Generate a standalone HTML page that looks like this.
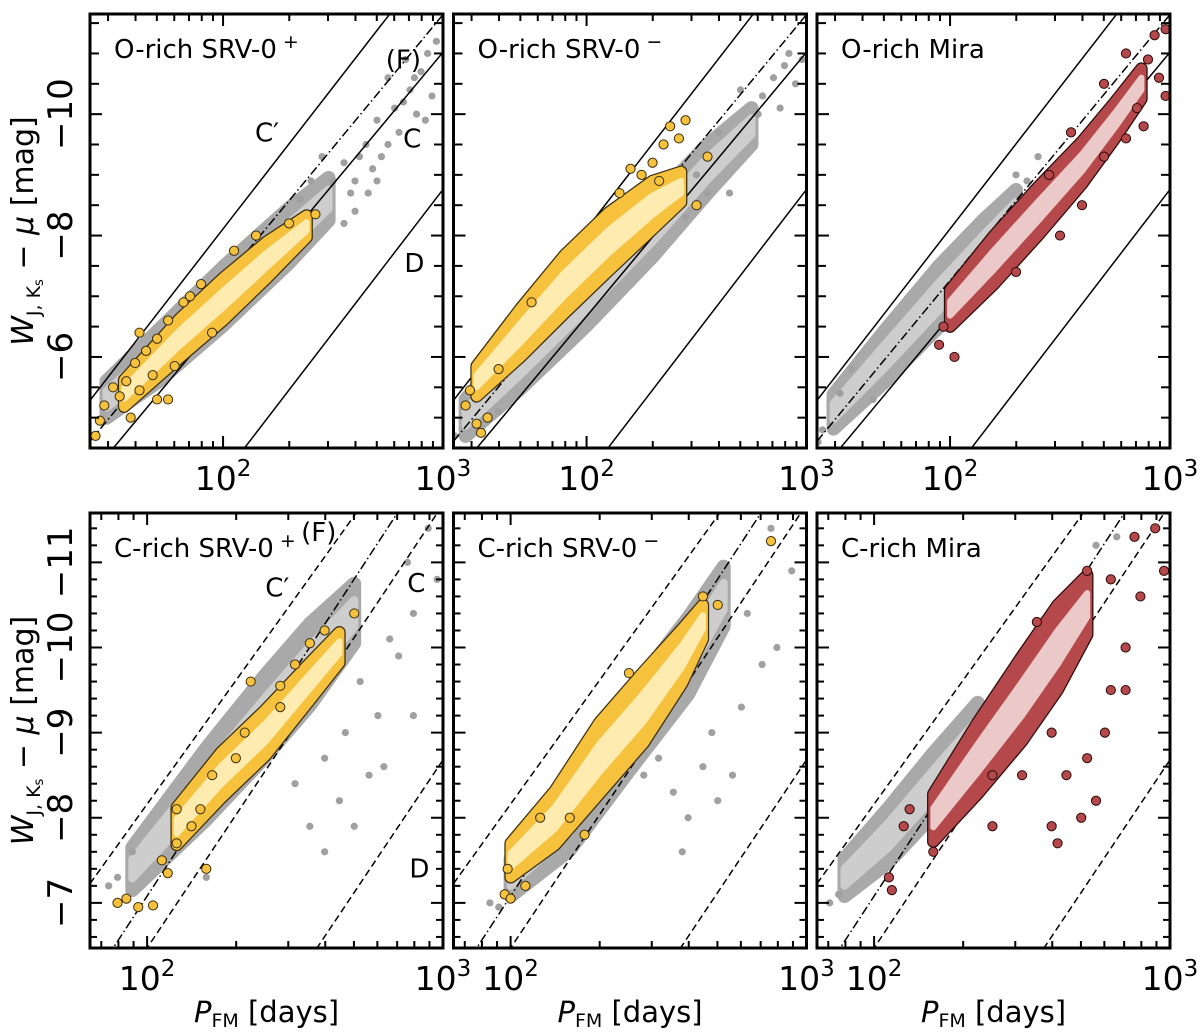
<!DOCTYPE html>
<html><head><meta charset="utf-8"><style>
body{margin:0;background:#fff;overflow:hidden}
svg text{font-family:"DejaVu Sans","Liberation Sans",sans-serif;fill:#000}
</style></head><body>
<svg id="fig" width="1200" height="1036" viewBox="0 0 1200 1036" xmlns="http://www.w3.org/2000/svg" style="display:block"></svg>
<script>
// ---- data (logP, W) ----
const panelTitles = ["O-rich SRV-0","O-rich SRV-0","O-rich Mira","C-rich SRV-0","C-rich SRV-0","C-rich Mira"];
const panelSup = ["+","\u2212","","+","\u2212",""];
const panelColor = ["yellow","yellow","red","yellow","yellow","red"];
const topYTicks = [-6,-8,-10];
const botYTicks = [-7,-8,-9,-10,-11];
const xTickLabels = ["2","3"];
// relations: [W at logP=2, slope]
const topLines = {Cp:[-8.11,-4.67], F:[-7.26,-4.38], C:[-6.67,-4.35], D:[-4.04,-4.72]};
const botLines = {Cp:[-8.16,-4.84], F:[-7.08,-5.32], C:[-6.47,-5.21], D:[-3.49,-5.19]};

const grayRidge1 = [[1.47,-5.3,0.3],[1.7,-6.0,0.42],[2.0,-7.0,0.48],[2.3,-8.0,0.45],[2.48,-8.6,0.35]];
const grayPts1 = [[2.55,-9.2],[2.6,-8.9],[2.65,-9.5],[2.7,-9.9],[2.72,-9.3],[2.78,-10.1],[2.8,-9.7],[2.85,-10.4],[2.88,-10.0],[2.9,-10.7],[2.93,-11.0],[2.75,-10.6],[2.83,-10.9],[2.95,-10.3],[2.6,-8.4],[2.55,-8.2],[2.66,-8.7],[2.45,-9.3],[2.4,-8.9],[2.92,-9.9],[2.58,-8.7],[2.68,-9.1],[2.75,-9.5],[2.82,-10.2],[2.7,-8.9],[2.5,-8.9],[2.62,-9.3],[2.87,-10.6],[2.97,-11.2],[2.35,-8.6]];
const colRidge1 = [[1.55,-5.4,0.22],[1.8,-6.3,0.32],[2.0,-6.95,0.35],[2.2,-7.6,0.3],[2.38,-8.15,0.18]];
const colPts1 = [[1.42,-4.7],[1.44,-4.95],[1.46,-5.2],[1.5,-5.5],[1.53,-5.35],[1.56,-5.6],[1.6,-5.9],[1.62,-5.45],[1.65,-6.1],[1.68,-5.7],[1.7,-6.3],[1.75,-6.6],[1.78,-5.85],[1.82,-6.9],[1.85,-7.0],[1.9,-7.2],[2.05,-7.75],[2.15,-8.0],[2.3,-8.2],[2.42,-8.35],[1.58,-5.0],[1.7,-5.3],[1.75,-5.3],[1.62,-6.4],[1.95,-6.4]];

const grayRidge2 = [[1.45,-5.0,0.3],[1.7,-5.9,0.42],[2.0,-7.0,0.48],[2.3,-8.1,0.45],[2.55,-9.1,0.4],[2.75,-9.8,0.3]];
const grayPts2 = [[2.8,-10.3],[2.85,-10.6],[2.88,-10.1],[2.92,-11.0],[2.95,-10.5],[2.7,-10.4],[2.6,-9.7],[2.5,-9.0],[1.4,-4.7],[1.5,-5.3],[2.65,-8.7],[2.4,-8.6],[2.98,-10.9],[1.6,-5.1],[2.78,-10.0],[2.9,-10.8],[2.45,-8.3],[2.55,-8.7]];
const colRidge2 = [[1.5,-5.6,0.25],[1.7,-6.4,0.4],[1.9,-7.2,0.48],[2.1,-7.9,0.48],[2.3,-8.5,0.4],[2.43,-8.8,0.25]];
const colPts2 = [[1.45,-5.2],[1.47,-5.45],[1.5,-4.9],[1.52,-4.75],[1.55,-5.0],[1.6,-5.8],[2.25,-9.0],[2.3,-9.2],[2.2,-9.1],[2.35,-9.5],[2.38,-9.8],[2.42,-9.6],[2.45,-9.9],[2.5,-8.5],[2.55,-9.3],[2.33,-8.9],[2.15,-8.7],[1.75,-6.9]];

const grayRidge3 = [[1.47,-5.1,0.28],[1.7,-6.0,0.42],[1.95,-7.0,0.5],[2.15,-7.8,0.45],[2.3,-8.4,0.35]];
const grayPts3 = [[1.42,-4.8],[1.5,-5.4],[2.35,-8.9],[2.4,-9.3],[1.55,-5.8],[2.0,-6.7],[1.65,-5.3],[1.4,-4.6],[2.3,-9.0]];
const colRidge3 = [[2.0,-6.8,0.3],[2.2,-7.6,0.4],[2.4,-8.4,0.4],[2.6,-9.2,0.35],[2.75,-9.9,0.3],[2.87,-10.5,0.25]];
const colPts3 = [[1.95,-6.2],[1.97,-6.5],[2.02,-6.0],[2.3,-7.4],[2.5,-8.0],[2.45,-9.0],[2.6,-8.5],[2.7,-9.3],[2.8,-9.6],[2.85,-10.1],[2.9,-10.9],[2.93,-11.3],[2.98,-11.4],[2.8,-11.0],[2.98,-10.3],[2.95,-10.6],[2.88,-9.8],[2.7,-10.5],[2.55,-9.7]];

const grayRidge4 = [[1.95,-7.4,0.25],[2.2,-8.4,0.42],[2.4,-9.2,0.48],[2.55,-9.8,0.48],[2.7,-10.4,0.35]];
const grayPts4 = [[2.6,-8.7],[2.65,-8.2],[2.7,-7.9],[2.75,-8.5],[2.8,-8.6],[2.55,-7.9],[2.5,-8.4],[2.85,-9.9],[2.9,-10.4],[2.88,-11.0],[2.95,-11.4],[2.98,-10.8],[2.78,-9.2],[2.72,-9.6],[2.9,-9.2],[2.6,-7.6],[2.2,-7.3],[1.95,-7.6],[1.9,-7.3],[1.87,-7.2],[2.67,-9.0],[2.82,-10.1]];
const colRidge4 = [[2.1,-7.9,0.22],[2.25,-8.5,0.27],[2.4,-9.0,0.27],[2.55,-9.6,0.22],[2.65,-10.0,0.18]];
const colPts4 = [[1.9,-7.0],[1.93,-7.05],[1.97,-6.95],[2.02,-6.97],[2.05,-7.5],[2.07,-7.35],[2.1,-7.7],[2.15,-7.9],[2.2,-7.4],[2.22,-8.5],[2.3,-8.7],[2.33,-9.0],[2.45,-9.3],[2.5,-9.8],[2.55,-10.05],[2.6,-10.2],[2.7,-10.4],[2.35,-9.6],[2.45,-9.55],[2.18,-8.1],[2.1,-8.1]];

const grayRidge5 = [[2.0,-7.3,0.22],[2.2,-8.0,0.38],[2.4,-9.0,0.45],[2.6,-9.9,0.45],[2.72,-10.6,0.35]];
const grayPts5 = [[1.93,-7.0],[1.96,-6.95],[2.55,-8.3],[2.6,-8.0],[2.65,-8.6],[2.7,-8.2],[2.75,-8.5],[2.78,-9.3],[2.85,-9.8],[2.9,-10.0],[2.8,-10.4],[2.95,-10.9],[2.88,-11.4],[2.5,-8.7],[2.45,-8.5],[2.58,-7.6],[2.68,-9.0]];
const colRidge5 = [[2.0,-7.5,0.2],[2.15,-8.0,0.32],[2.3,-8.7,0.42],[2.45,-9.3,0.42],[2.58,-9.9,0.32],[2.65,-10.3,0.2]];
const colPts5 = [[1.98,-7.1],[2.0,-7.05],[2.05,-7.2],[1.99,-7.4],[2.25,-7.8],[2.2,-8.0],[2.65,-10.6],[2.7,-10.5],[2.88,-11.25],[2.4,-9.7],[2.1,-8.0]];

const grayRidge6 = [[1.9,-7.3,0.22],[2.05,-7.8,0.32],[2.2,-8.4,0.36],[2.35,-9.0,0.35]];
const grayPts6 = [[1.85,-7.0],[1.88,-7.1],[2.75,-11.2],[2.82,-11.3]];
const colRidge6 = [[2.2,-8.0,0.28],[2.35,-8.7,0.42],[2.5,-9.4,0.5],[2.62,-10.0,0.5],[2.72,-10.5,0.35]];
const colPts6 = [[2.05,-7.3],[2.06,-7.15],[2.12,-8.1],[2.2,-7.6],[2.4,-7.9],[2.6,-7.9],[2.62,-7.7],[2.7,-8.0],[2.75,-8.2],[2.65,-8.5],[2.72,-8.7],[2.78,-9.0],[2.8,-9.5],[2.85,-9.5],[2.9,-10.6],[2.98,-10.9],[2.95,-11.4],[2.88,-11.3],[2.8,-10.8],[2.72,-10.9],[2.55,-10.3],[2.85,-10.0],[2.6,-9.0],[2.5,-8.5],[2.4,-8.5],[2.1,-7.9]];

const grayRidges=[grayRidge1,grayRidge2,grayRidge3,grayRidge4,grayRidge5,grayRidge6];
const grayPtsAll=[grayPts1,grayPts2,grayPts3,grayPts4,grayPts5,grayPts6];
const colRidges=[colRidge1,colRidge2,colRidge3,colRidge4,colRidge5,colRidge6];
const colPtsAll=[colPts1,colPts2,colPts3,colPts4,colPts5,colPts6];

// ---- layout ----
const NS="http://www.w3.org/2000/svg";
const svg=document.getElementById('fig');
function mk(tag,attrs,parent){const e=document.createElementNS(NS,tag);for(const k in attrs)e.setAttribute(k,attrs[k]);(parent||svg).appendChild(e);return e;}
const colX=[90,453.5,817], W=353;
const rows=[{top:14,bot:448,lx0:1.395,lx1:3.0,w0:-4.5,w1:-11.65,minor:0.5,ticks:topYTicks,lines:topLines,dash:false},
            {top:513,bot:948,lx0:1.807,lx1:3.0,w0:-6.47,w1:-11.58,minor:0.2,ticks:botYTicks,lines:botLines,dash:true}];
const fills={yellow:{f:"#f6c23e",c:"#fdebb0",s:"#3a2e10"},red:{f:"#b5484a",c:"#ecc9c9",s:"#2a0a0a"}};

for(let p=0;p<6;p++){
  const r=rows[p<3?0:1], x0=colX[p%3], x1=x0+W;
  const g=mk('g',{});
  
  
  const clipId='clip'+p;
  const cp=mk('clipPath',{id:clipId},g); mk('rect',{x:x0,y:r.top,width:W,height:r.bot-r.top},cp);
  const sx=l=>x0+(l-r.lx0)/(r.lx1-r.lx0)*W;
  const sy=w=>r.bot-(w-r.w0)/(r.w1-r.w0)*(r.bot-r.top);
  const plot=mk('g',{'clip-path':'url(#'+clipId+')'},g);
  function band(ridge,fill,sw,scale,name,edge){
    let up=ridge.map(d=>[sx(d[0]),sy(d[1]-d[2]*scale)]), lo=ridge.map(d=>[sx(d[0]),sy(d[1]+d[2]*scale)]).reverse();
    const pts=up.concat(lo).map(q=>q[0].toFixed(1)+','+q[1].toFixed(1)).join(' ');
    if(edge){const e2=mk('polygon',{points:pts,fill:edge,stroke:edge,'stroke-width':sw+2.5,'stroke-linejoin':'round'},plot);
      
      }
    const e=mk('polygon',{points:pts,fill:fill,stroke:fill,'stroke-width':sw,'stroke-linejoin':'round'},plot);
    
    
  }
  // gray
  band(grayRidges[p],'#a9a9a9',14,1,'gray-cloud');
  band(grayRidges[p],'#cdcdcd',8,0.45,'gray-cloud-core');
  grayPtsAll[p].forEach(d=>{const c=mk('circle',{cx:sx(d[0]),cy:sy(d[1]),r:3.6,fill:'#a0a0a0'},plot);
    
    });
  // lines
  const ln=r.lines;
  [['Cp',r.dash?'7,4':'none'],['F','9,3,1.5,3'],['C',r.dash?'7,4':'none'],['D',r.dash?'7,4':'none']].forEach(([k,da])=>{
    const a=ln[k][0],b=ln[k][1];
    const l=mk('line',{x1:sx(r.lx0),y1:sy(a+b*(r.lx0-2)),x2:sx(r.lx1),y2:sy(a+b*(r.lx1-2)),stroke:'#000','stroke-width':1.5,'stroke-dasharray':da},plot);
    
    
  });
  // colored
  const fc=fills[panelColor[p]];
  band(colRidges[p],fc.f,10,1,'member-cloud',fc.s);
  band(colRidges[p],fc.c,6,0.4,'member-cloud-core');
  colPtsAll[p].forEach(d=>{const c=mk('circle',{cx:sx(d[0]),cy:sy(d[1]),r:4.6,fill:fc.f,stroke:fc.s,'stroke-width':1},plot);
    
    });
  // ticks
  const tg=mk('g',{stroke:'#000','stroke-width':2},g);
  for(let k=1;k<=3;k++)for(let m=1;m<10;m++){const l=k+Math.log10(m); if(l<r.lx0||l>r.lx1)continue;
    const X=sx(l), len=m==1?12:7;
    mk('line',{x1:X,y1:r.bot,x2:X,y2:r.bot-len},tg); mk('line',{x1:X,y1:r.top,x2:X,y2:r.top+len},tg);}
  for(let w=-12;w<=-4;w+=r.minor){const ww=Math.round(w*10)/10; if(ww>r.w0||ww<r.w1)continue;
    const Y=sy(ww);
    const len=r.ticks.includes(ww)?12:(p<3?9:7);
    mk('line',{x1:x0,y1:Y,x2:x0+len,y2:Y},tg); mk('line',{x1:x1,y1:Y,x2:x1-len,y2:Y},tg);}
  mk('rect',{x:x0,y:r.top,width:W,height:r.bot-r.top,fill:'none',stroke:'#000','stroke-width':3},g);
  // x tick labels
  [2,3].forEach((k,i)=>{ if(k<r.lx0||k>r.lx1)return;
    const t=mk('text',{x:sx(k)-(i==1?0:0),y:r.bot+42,'font-size':33,'text-anchor':'middle'},g);
    t.textContent='10'; const s=mk('tspan',{dy:-14,'font-size':23},t); s.textContent=xTickLabels[i];
    
    });
  // title
  const tt=mk('text',{x:x0+24,y:r.top+44,'font-size':26},g); tt.textContent=panelTitles[p];
  if(panelSup[p]){const s=mk('tspan',{dx:6,dy:-10,'font-size':19},tt); s.textContent=panelSup[p];}
  
  
  if(p==0||p==3){
    r.ticks.forEach(v=>{const Y=sy(v);const t=mk('text',{x:0,y:0,'font-size':34,'text-anchor':'middle',transform:`translate(72,${Y}) rotate(-90)`},g);
      t.textContent='\u2212'+Math.abs(v);
      
      });
    const yt=mk('text',{x:0,y:0,'font-size':30,'text-anchor':'middle',transform:`translate(33,${(r.top+r.bot)/2}) rotate(-90)`},g);
    yt.innerHTML='<tspan font-style="italic">W</tspan><tspan font-size="19" dy="7">J, K</tspan><tspan font-size="13" dy="3">s</tspan><tspan dy="-10"> \u2212 </tspan><tspan font-style="italic">\u03bc</tspan><tspan> [mag]</tspan>';
    
    
  }
  if(p>=3){
    const xt=mk('text',{x:x0+W/2,y:1022,'font-size':29,'text-anchor':'middle'},g);
    xt.innerHTML='<tspan font-style="italic">P</tspan><tspan font-size="19" dy="5">FM</tspan><tspan dy="-5"> [days]</tspan>';
    
    
  }
  if(p==0||p==3){
    const lab=(txt,l,w)=>{const t=mk('text',{x:sx(l),y:sy(w),'font-size':26,'text-anchor':'middle'},g);t.textContent=txt;
      
      };
    if(p==0){lab('C\u2032',2.2,-9.55);lab('(F)',2.82,-10.75);lab('C',2.86,-9.45);lab('D',2.87,-7.4);}
    else{lab('C\u2032',2.44,-10.6);lab('(F)',2.58,-11.25);lab('C',2.91,-10.65);lab('D',2.92,-7.3);}
  }
}
</script>
</body></html>
